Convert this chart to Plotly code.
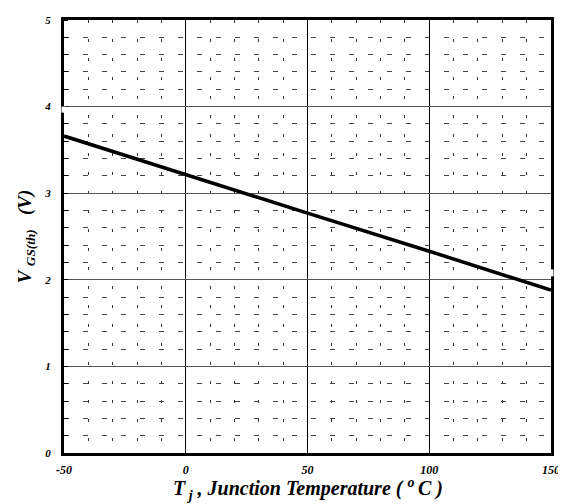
import plotly.graph_objects as go

temperature_c = [-50, 0, 50, 100, 150]
vgs_th_v = [3.66, 3.21, 2.77, 2.33, 1.88]

x_ticks = [-50, 0, 50, 100, 150]
y_ticks = [0, 1, 2, 3, 4, 5]

FONT = "Liberation Serif"

fig = go.Figure()
fig.add_trace(go.Scatter(
    x=temperature_c, y=vgs_th_v, mode="lines",
    line=dict(color="black", width=3.5), showlegend=False, hoverinfo="skip",
))

fig.update_layout(
    width=558, height=496,
    margin=dict(l=56, r=15, t=6, b=51),
    paper_bgcolor="white", plot_bgcolor="white",
    font=dict(family=FONT, color="black"),
)

fig.update_xaxes(
    range=[-50, 150], tickvals=x_ticks,
    ticktext=[f"<b><i>{v}</i></b>" for v in x_ticks],
    tickfont=dict(family=FONT, size=12, color="black"),
    showline=True, linecolor="black", linewidth=3, mirror=True,
    showgrid=True, gridcolor="black", gridwidth=1.2,
    ticks="", ticklabelstandoff=4,
    minor=dict(dtick=10, showgrid=True, gridcolor="#333333", gridwidth=1,
               griddash="3px,16px", ticks=""),
    zeroline=False,
)
fig.update_yaxes(
    range=[0, 5], tickvals=y_ticks,
    ticktext=[f"<b><i>{v}</i></b>" for v in y_ticks],
    tickfont=dict(family=FONT, size=11, color="black"),
    showline=True, linecolor="black", linewidth=3, mirror=True,
    showgrid=True, gridcolor="#555555", gridwidth=1,
    ticks="", ticklabelstandoff=8,
    minor=dict(dtick=0.2, showgrid=True, gridcolor="#444444", gridwidth=1,
               griddash="5px,14px", ticks="inside", ticklen=4, tickcolor="black"),
    zeroline=False,
    title=dict(text="<b><i>V <sub>GS(th)</sub>   (V)</i></b>",
               font=dict(family=FONT, size=19, color="black"), standoff=8),
)

# x-axis title placed as an annotation so its distance below the plot is exact
fig.add_annotation(
    text="<b><i>T<sub> j</sub> , Junction Temperature ( <sup>o </sup>C )</i></b>",
    xref="paper", yref="paper", x=0.5, y=0, xanchor="center", yanchor="middle",
    yshift=-36, showarrow=False, font=dict(family=FONT, size=20, color="black"),
)

# small white breaks in the frame, as in the reference
fig.add_shape(type="line", xref="paper", yref="y", x0=0, x1=0, y0=3.93, y1=4.0,
              line=dict(color="white", width=5), layer="above")
fig.add_shape(type="line", xref="paper", yref="y", x0=1, x1=1, y0=2.04, y1=2.12,
              line=dict(color="white", width=5), layer="above")

fig.write_html("out.html")
